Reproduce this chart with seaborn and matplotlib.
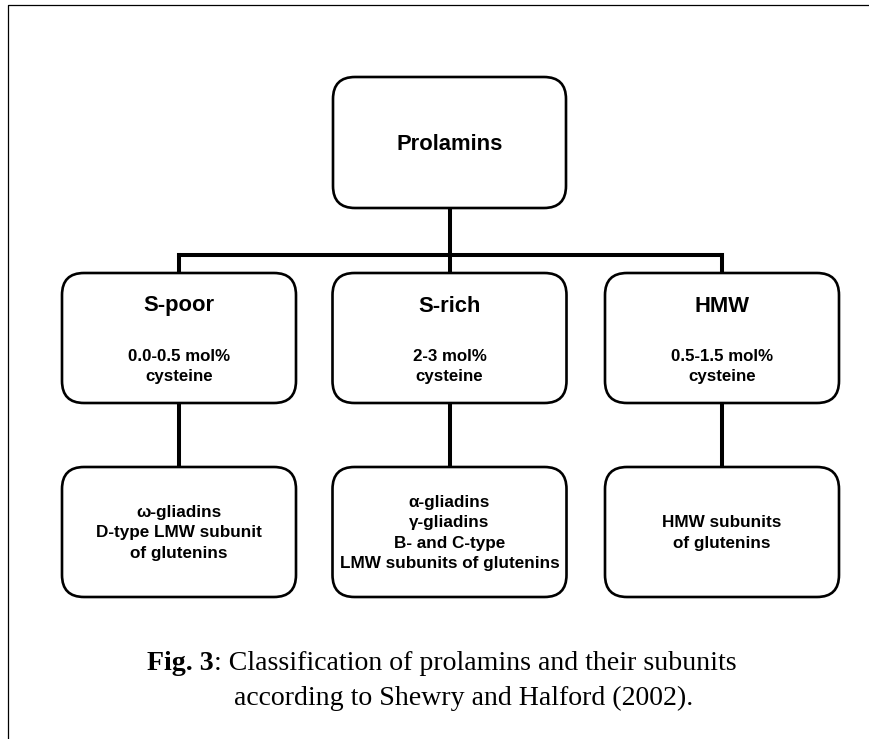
import matplotlib
matplotlib.use("Agg")
import matplotlib.pyplot as plt
from matplotlib.patches import FancyBboxPatch
import seaborn as sns
import pandas as pd

# ---- content ----
root_label = "Prolamins"
group_titles = ["S-poor", "S-rich", "HMW"]
group_cysteine = ["0.0-0.5 mol%\ncysteine", "2-3 mol%\ncysteine", "0.5-1.5 mol%\ncysteine"]
group_members = [
    "ω-gliadins\nD-type LMW subunit\nof glutenins",
    "α-gliadins\nγ-gliadins\nB- and C-type\nLMW subunits of glutenins",
    "HMW subunits\nof glutenins",
]
caption_bold = "Fig. 3"
caption_line1 = ": Classification of prolamins and their subunits"
caption_line2 = "according to Shewry and Halford (2002)."

# ---- layout (pixel coordinates, y downward) ----
W, H = 869, 739
box_w = 234
col_centers = [179, 449.5, 722]
root_box = (333, 77, 566, 208)          # x0, y0, x1, y1
mid_y = (273, 403)
bot_y = (467, 597)
bus_y = 255
radius = 22

sns.set_theme(style="white")
plt.rcParams["font.family"] = ["Liberation Sans", "DejaVu Sans"]

fig = plt.figure(figsize=(W / 100, H / 100), dpi=100)
ax = fig.add_axes([0, 0, 1, 1])

# connectors via seaborn
segs = []
def seg(k, xs, ys):
    for x, y in zip(xs, ys):
        segs.append({"seg": k, "x": x, "y": y})

seg(0, [col_centers[1], col_centers[1]], [root_box[3], bus_y])
seg(1, [col_centers[0], col_centers[2]], [bus_y, bus_y])
for i, cx in enumerate(col_centers):
    seg(2 + i, [cx, cx], [bus_y, mid_y[0]])
    seg(5 + i, [cx, cx], [mid_y[1], bot_y[0]])
df = pd.DataFrame(segs)
sns.lineplot(data=df, x="x", y="y", units="seg", estimator=None, sort=False,
             color="black", linewidth=2.9, ax=ax, solid_capstyle="projecting")

# frame lines (top and left visible)
frame = pd.DataFrame({"x": [8, 8, W + 5], "y": [H + 5, 5, 5]})
sns.lineplot(data=frame, x="x", y="y", estimator=None, sort=False,
             color="black", linewidth=0.9, ax=ax)

def rbox(x0, y0, x1, y1):
    p = FancyBboxPatch((x0, y0), x1 - x0, y1 - y0,
                       boxstyle=f"round,pad=0,rounding_size={radius}",
                       facecolor="white", edgecolor="black", linewidth=1.9, zorder=3)
    ax.add_patch(p)

rbox(*root_box)
ax.text((root_box[0] + root_box[2]) / 2, 145, root_label, ha="center", va="center",
        fontsize=15.8, fontweight="bold", color="black", zorder=4)

for i, cx in enumerate(col_centers):
    x0, x1 = cx - box_w / 2, cx + box_w / 2
    rbox(x0, mid_y[0], x1, mid_y[1])
    ax.text(cx, 306, group_titles[i], ha="center", va="center",
            fontsize=15.8, fontweight="bold", color="black", zorder=4)
    ax.text(cx, 366.5, group_cysteine[i], ha="center", va="center", multialignment="center",
            fontsize=12.2, fontweight="bold", color="black", linespacing=1.42, zorder=4)
    rbox(x0, bot_y[0], x1, bot_y[1])
    ax.text(cx, (bot_y[0] + bot_y[1]) / 2 + 1, group_members[i], ha="center", va="center",
            multialignment="center", fontsize=12.3, fontweight="bold", color="black",
            linespacing=1.45, zorder=4)

ax.set_xlim(0, W)
ax.set_ylim(H, 0)
ax.set_axis_off()

# caption
serif = ["Liberation Serif", "DejaVu Serif"]
cap_fs = 20.1
t1 = ax.text(147, 663, caption_bold, ha="left", va="center", fontsize=cap_fs,
             fontweight="bold", family=serif, color="black")
fig.canvas.draw()
r = fig.canvas.get_renderer()
bb = t1.get_window_extent(renderer=r)
x_after = bb.x1  # pixels == data units horizontally
ax.text(x_after, 663, caption_line1, ha="left", va="center", fontsize=cap_fs,
        family=serif, color="black")
ax.text(234, 698, caption_line2, ha="left", va="center", fontsize=cap_fs,
        family=serif, color="black")

fig.savefig("out.png", dpi=100, facecolor="white")
